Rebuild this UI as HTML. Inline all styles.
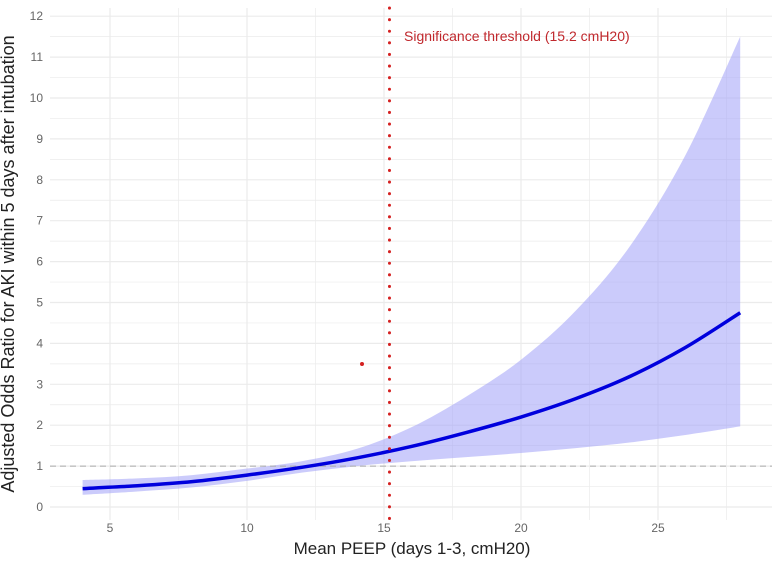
<!DOCTYPE html>
<html><head><meta charset="utf-8"><style>
body{margin:0;background:#fff}
svg{display:block;font-family:"Liberation Sans",sans-serif}
</style></head><body>
<svg id="chart" width="779" height="571">
<g id="grid"></g>
<g id="marks"></g>
<g id="axes"></g>
<text x="14" y="264" transform="rotate(-90 14 264)" text-anchor="middle" font-size="18" fill="#222">Adjusted Odds Ratio for AKI within 5 days after intubation</text>
<text x="412" y="554" text-anchor="middle" font-size="17" fill="#222">Mean PEEP (days 1-3, cmH20)</text>
<text x="404" y="41" font-size="14" fill="#c0282d">Significance threshold (15.2 cmH20)</text>
<circle cx="362" cy="364" r="2" fill="#d42020"></circle>
</svg>
<script>
const peep = [4,6,8,10,12,14,16,18,20,22,24,26,28];
const estimate = [0.45,0.52,0.62,0.78,0.97,1.2,1.48,1.82,2.2,2.65,3.2,3.9,4.75];
const lower = [0.30,0.38,0.48,0.64,0.84,1.0,1.12,1.22,1.32,1.44,1.58,1.76,1.97];
const upper = [0.66,0.70,0.78,0.94,1.12,1.42,1.95,2.7,3.6,4.8,6.4,8.6,11.5];
const xTicks = [5,10,15,20,25];
const yTicks = [0,1,2,3,4,5,6,7,8,9,10,11,12];
const threshold = 15.2;
const refLine = 1;

const NS="http://www.w3.org/2000/svg";
const X=v=>110+(v-5)*27.4;
const Y=v=>507-v*40.9;
const L=50,R=772,T=8,B=520;
function mk(tag,attrs,parent){const e=document.createElementNS(NS,tag);for(const k in attrs)e.setAttribute(k,attrs[k]);document.getElementById(parent).appendChild(e);return e;}
for(let v=2.5;v<=30;v+=2.5){const x=X(v);if(x<L||x>R)continue;
 const g=mk('line',{x1:x,x2:x,y1:T,y2:B,stroke:'#ebebeb','stroke-width':v%5===0?1.2:0.7},'grid');
 
 }
for(let v=0;v<=12;v+=0.5){const y=Y(v);
 const g=mk('line',{x1:L,x2:R,y1:y,y2:y,stroke:'#ebebeb','stroke-width':v%1===0?1.2:0.7},'grid');
 
 }
xTicks.forEach(v=>{const t=mk('text',{x:X(v),y:532,'text-anchor':'middle','font-size':12,fill:'#666'},'axes');t.textContent=v;
 
 });
yTicks.forEach(v=>{const t=mk('text',{x:43,y:Y(v)+4,'text-anchor':'end','font-size':12,fill:'#666'},'axes');t.textContent=v;
 
 });
function spline(xs,ys){const p=xs.map((x,i)=>[X(x),Y(ys[i])]);let d='';
 for(let i=0;i<p.length-1;i++){const p0=p[i-1]||p[i],p1=p[i],p2=p[i+1],p3=p[i+2]||p2;
  const c1=[p1[0]+(p2[0]-p0[0])/6,p1[1]+(p2[1]-p0[1])/6],c2=[p2[0]-(p3[0]-p1[0])/6,p2[1]-(p3[1]-p1[1])/6];
  d+=(i?'':'M'+p1[0]+','+p1[1])+'C'+c1+' '+c2+' '+p2;}return d;}
const rx=[...peep].reverse(),ru=[...upper].reverse();
const band=mk('path',{d:spline(peep,lower)+'L'+spline(rx,ru).slice(1)+'Z',fill:'#a0a0f8','fill-opacity':0.55},'marks');


const ref=mk('line',{x1:L,x2:R,y1:Y(refLine),y2:Y(refLine),stroke:'#aaa','stroke-dasharray':'6,4','stroke-width':1},'marks');


const ln=mk('path',{d:spline(peep,estimate),fill:'none',stroke:'#0000dd','stroke-width':3.5},'marks');


const th=mk('line',{x1:X(threshold),x2:X(threshold),y1:T,y2:B,stroke:'#d42020','stroke-width':3,'stroke-dasharray':'0.1,11.5','stroke-linecap':'round'},'marks');


</script>
</body></html>
